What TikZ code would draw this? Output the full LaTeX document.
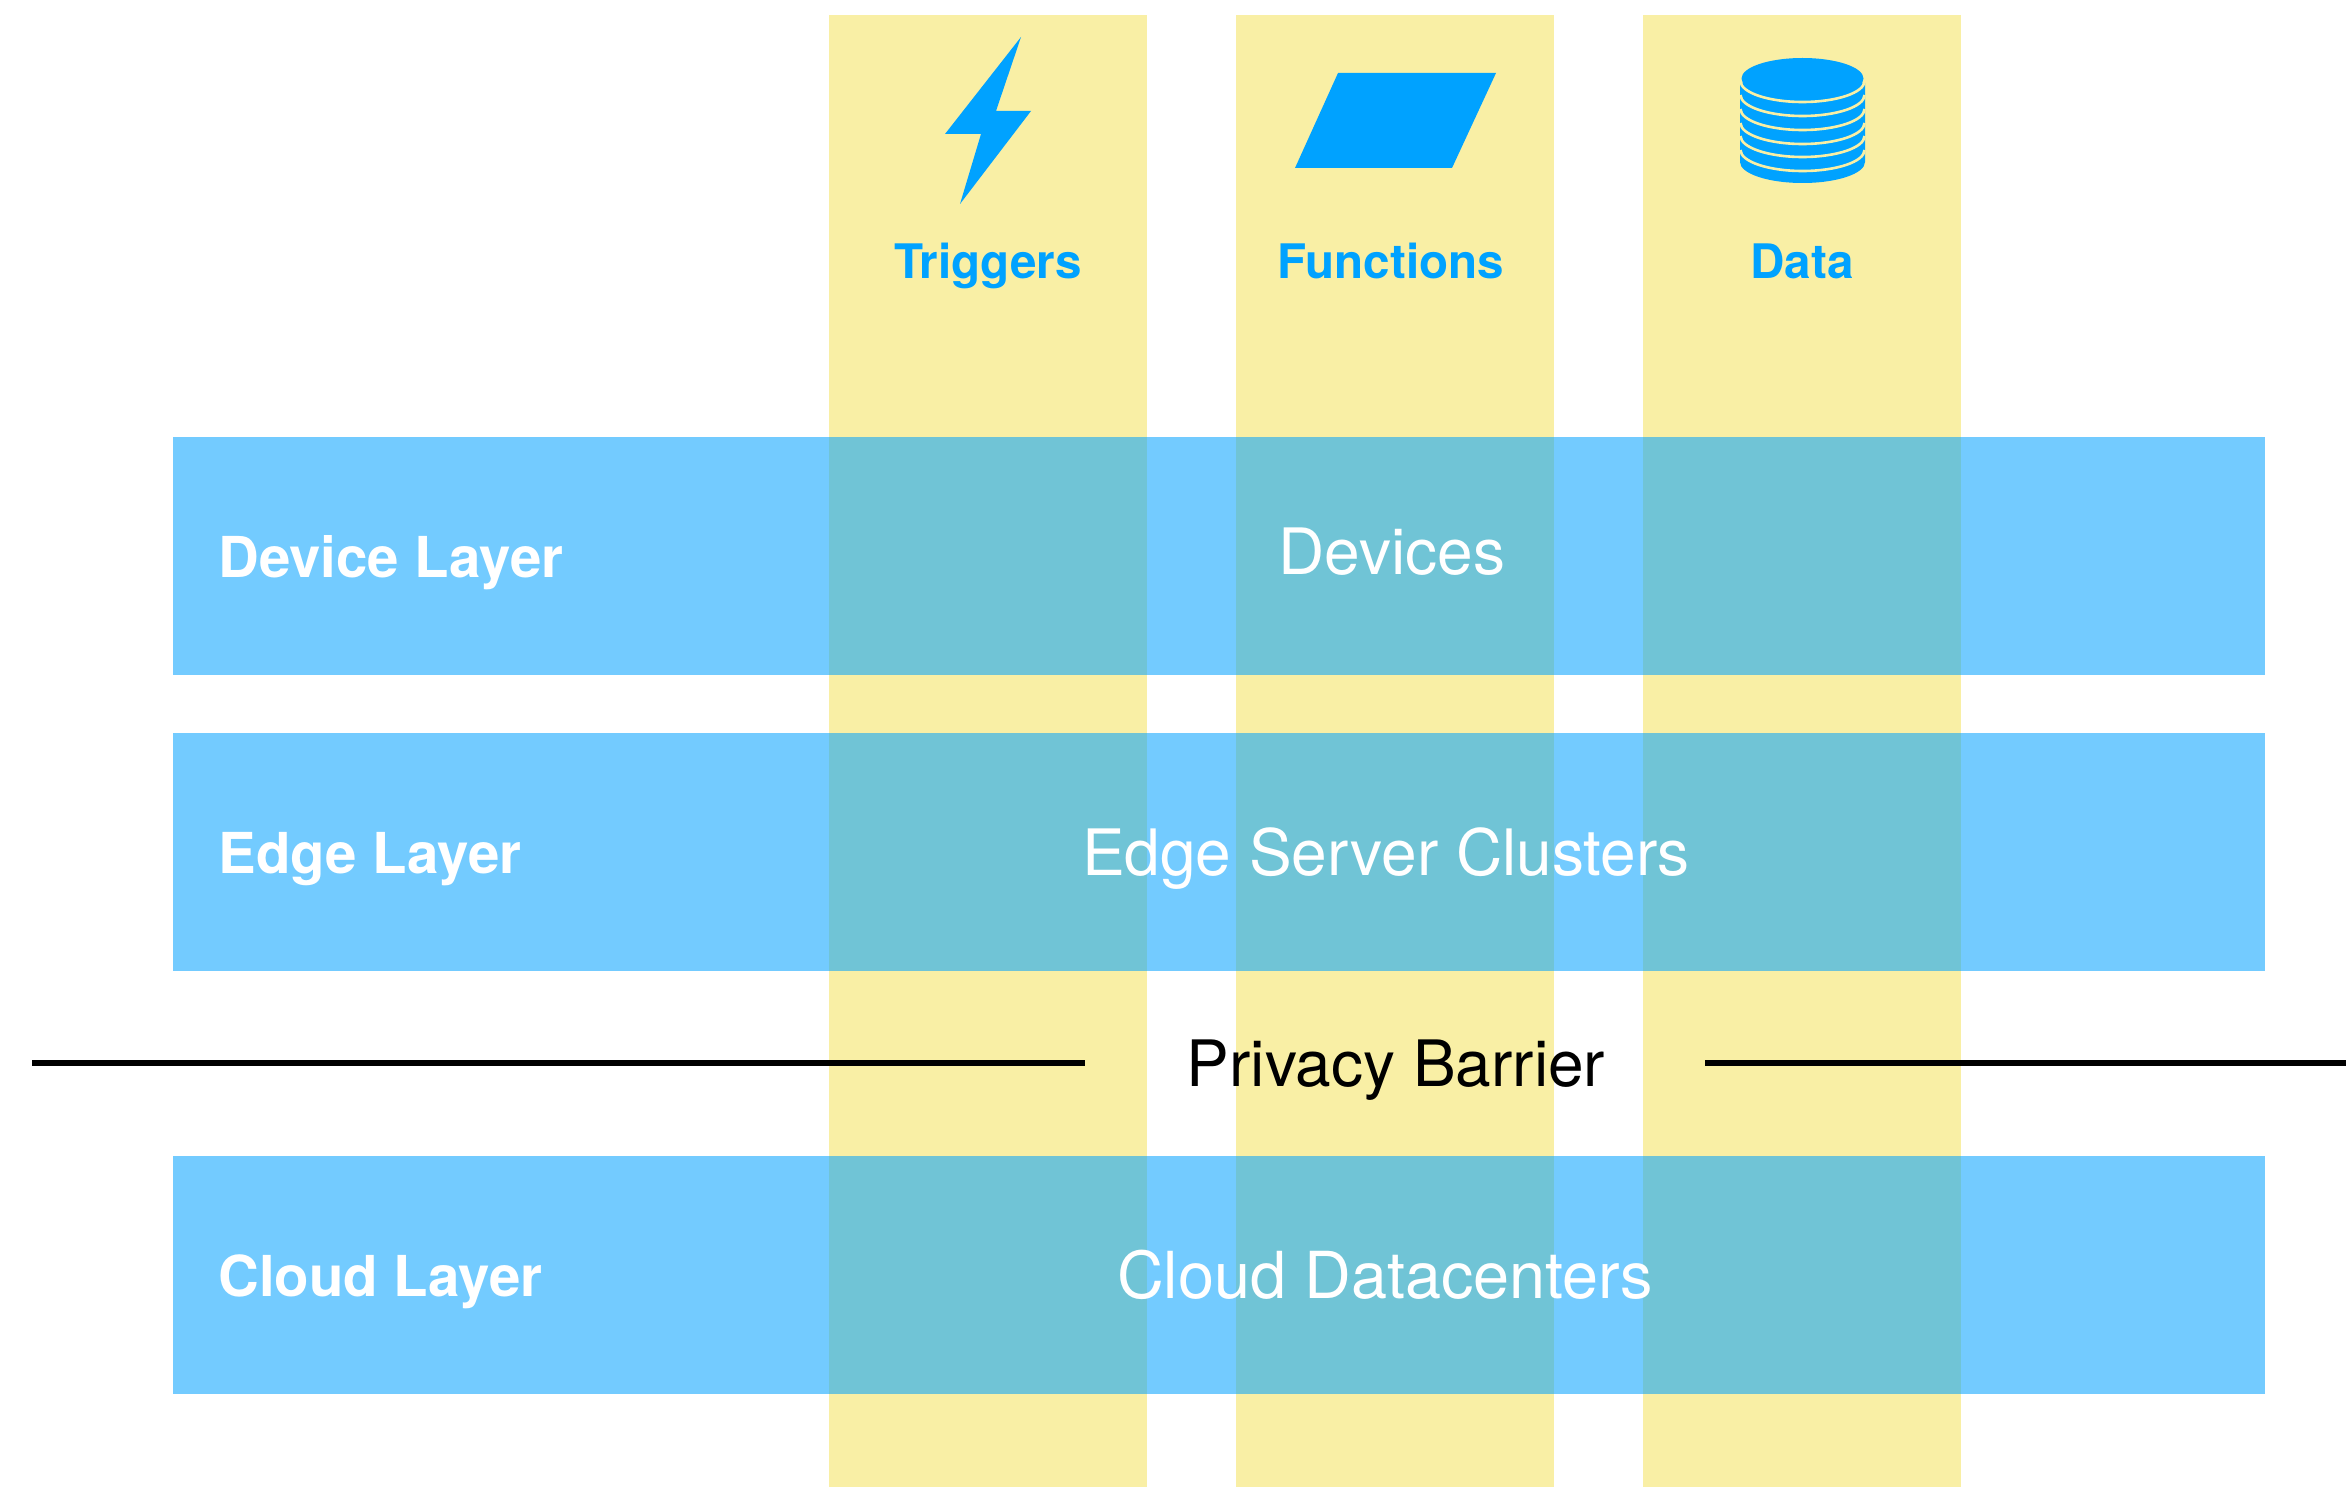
\documentclass[tikz,border=0pt]{standalone}
\usepackage{fontspec}
\setmainfont{TeX Gyre Heros}
\definecolor{colyellow}{HTML}{F9EFA5}
\definecolor{iconblue}{HTML}{00A2FF}
\tikzset{
  column/.style={fill=colyellow,draw=none},
  layerband/.style={fill=iconblue,fill opacity=0.55,draw=none},
  icon/.style={fill=iconblue,draw=none},
  coltitle/.style={anchor=base,inner sep=0pt,text=iconblue,font=\fontsize{23.8}{24}\selectfont\bfseries},
  layername/.style={anchor=base west,inner sep=0pt,text=white,font=\fontsize{28.2}{28}\selectfont\bfseries},
  layertext/.style={anchor=base,inner sep=0pt,text=white,font=\fontsize{32}{32}\selectfont},
  barrier/.style={line width=3pt,draw=black},
  ring/.style={line width=1.3pt,draw=colyellow}
}
\begin{document}
\begin{tikzpicture}[x=0.5pt,y=-0.5pt]
\useasboundingbox (0,0) rectangle (2346,1487);
\fill[white] (0,0) rectangle (2346,1487);
% columns
\fill[column] (829,15) rectangle (1147,1487);
\fill[column] (1236,15) rectangle (1554,1487);
\fill[column] (1643,15) rectangle (1961,1487);
% icons
\fill[icon] (1021,37) -- (996,111) -- (1031,111) -- (960,204) -- (981,134) -- (945,134) -- cycle;
\fill[icon] (1338,73) -- (1496,73) -- (1452,168) -- (1295,168) -- cycle;
\fill[icon] (1740,83) -- (1865,83) -- (1865,162) arc[start angle=0,end angle=180,x radius=62.5,y radius=21] -- cycle;
\foreach \cy in {150,136,123,109,95,81}{
  \draw[ring] (1864.5,\cy) arc[start angle=0,end angle=180,x radius=62,y radius=21];
}
\fill[icon] (1802.5,78.5) ellipse[x radius=61,y radius=20.5];
% layers
\fill[layerband] (173,437) rectangle (2265,675);
\fill[layerband] (173,733) rectangle (2265,971);
\fill[layerband] (173,1156) rectangle (2265,1394);
% column titles
\node[coltitle] (trig) at (988,279) {Triggers};
\node[coltitle] (func) at (1391,279) {Functions};
\node[coltitle] (data) at (1802,279) {Data};
% layer names
\node[layername] (dl) at (218,577) {Device Layer};
\node[layername] (el) at (218,873) {Edge Layer};
\node[layername] (cl) at (218,1296) {Cloud Layer};
% layer contents
\node[layertext] (dev) at (1392,574) {Devices};
\node[layertext] (esc) at (1386,875) {Edge Server Clusters};
\node[layertext,font=\fontsize{32.4}{32}\selectfont] (cdc) at (1385,1298) {Cloud Datacenters};
% barrier
\node[anchor=base,inner sep=0pt,text=black,font=\fontsize{32}{32}\selectfont] (pb) at (1396,1086) {Privacy Barrier};
\coordinate (bl) at (32,1063);
\coordinate (bm) at (1085,1063);
\coordinate (br) at (1705,1063);
\coordinate (be) at (2346,1063);
\draw[barrier] (bl) -- (bm);
\draw[barrier] (br) -- (be);
\end{tikzpicture}
\end{document}
